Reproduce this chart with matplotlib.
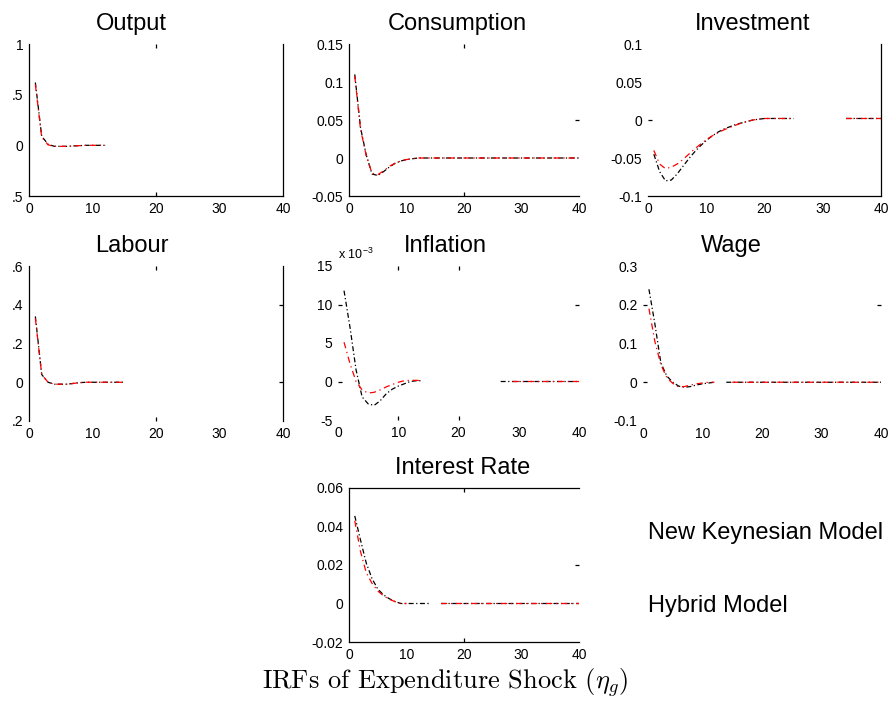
import numpy as np
import matplotlib
matplotlib.use('Agg')
import matplotlib.pyplot as plt

N = np.nan

# Горизонт отклика (кварталы)
periods = list(range(1, 41))

# New Keynesian Model (чёрная) и Hybrid Model (красная)
output_nk = [0.62, 0.09, 0.01, -0.01, -0.01, -0.01, -0.006, -0.003, 0.0, 0.0,
             0.0, 0.0, N, N, N, N, N, N, N, N,
             N, N, N, N, N, N, N, N, N, N,
             N, N, N, N, N, N, N, N, N, N]
output_hy = [0.60, 0.08, 0.005, -0.01, -0.01, -0.01, -0.006, -0.003, 0.0, 0.0,
             0.0, 0.0, N, N, N, N, N, N, N, N,
             N, N, N, N, N, N, N, N, N, N,
             N, N, N, N, N, N, N, N, N, N]

consumption_nk = [0.110, 0.040, 0.004, -0.021, -0.023, -0.018, -0.012, -0.007, -0.004, -0.002,
                  -0.001, 0.0, 0.0, 0.0, 0.0, 0.0, 0.0, 0.0, 0.0, 0.0,
                  0.0, 0.0, 0.0, 0.0, 0.0, 0.0, 0.0, 0.0, 0.0, 0.0,
                  0.0, 0.0, 0.0, 0.0, 0.0, 0.0, 0.0, 0.0, 0.0, 0.0]
consumption_hy = [0.108, 0.038, 0.003, -0.020, -0.022, -0.017, -0.011, -0.007, -0.004, -0.002,
                  -0.001, 0.0, 0.0, 0.0, 0.0, 0.0, 0.0, 0.0, 0.0, 0.0,
                  0.0, 0.0, 0.0, 0.0, 0.0, 0.0, 0.0, 0.0, 0.0, 0.0,
                  0.0, 0.0, 0.0, 0.0, 0.0, 0.0, 0.0, 0.0, 0.0, 0.0]

investment_nk = [-0.045, -0.068, -0.080, -0.079, -0.071, -0.061, -0.051, -0.042, -0.034, -0.027,
                 -0.021, -0.016, -0.012, -0.009, -0.006, -0.004, -0.002, 0.000, 0.001, 0.002,
                 0.002, 0.002, 0.002, 0.002, 0.002, N, N, N, N, N,
                 N, N, N, 0.002, 0.002, 0.002, 0.002, 0.002, 0.002, 0.002]
investment_hy = [-0.040, -0.058, -0.064, -0.062, -0.058, -0.052, -0.045, -0.038, -0.032, -0.026,
                 -0.021, -0.017, -0.013, -0.010, -0.007, -0.004, -0.002, 0.000, 0.001, 0.002,
                 0.002, 0.002, 0.002, 0.002, 0.002, N, N, N, N, N,
                 N, N, N, 0.002, 0.002, 0.002, 0.002, 0.002, 0.002, 0.002]

labour_nk = [0.34, 0.04, 0.0, -0.01, -0.01, -0.01, -0.006, -0.002, 0.0, 0.0,
             0.0, 0.0, 0.0, 0.0, 0.0, N, N, N, N, N,
             N, N, N, N, N, N, N, N, N, N,
             N, N, N, N, N, N, N, N, N, N]
labour_hy = [0.33, 0.04, 0.0, -0.01, -0.01, -0.01, -0.006, -0.002, 0.0, 0.0,
             0.0, 0.0, 0.0, 0.0, 0.0, N, N, N, N, N,
             N, N, N, N, N, N, N, N, N, N,
             N, N, N, N, N, N, N, N, N, N]

# Инфляция в единицах 10^-3
inflation_nk = [11.8, 7.0, 1.5, -2.0, -2.9, -3.1, -2.5, -1.6, -1.0, -0.6,
                -0.3, 0.0, 0.1, 0.1, N, N, N, N, N, N,
                N, N, N, N, N, N, 0.0, 0.0, 0.0, 0.0,
                0.0, 0.0, 0.0, 0.0, 0.0, 0.0, 0.0, 0.0, 0.0, 0.0]
inflation_hy = [5.1, 2.3, 0.0, -1.1, -1.5, -1.4, -1.1, -0.7, -0.4, -0.1,
                0.1, 0.15, 0.15, 0.1, N, N, N, N, N, N,
                N, N, N, N, N, N, N, N, 0.0, 0.0,
                0.0, 0.0, 0.0, 0.0, 0.0, 0.0, 0.0, 0.0, 0.0, 0.0]

wage_nk = [0.24, 0.15, 0.05, 0.016, 0.0, -0.010, -0.013, -0.011, -0.007, -0.004,
           -0.002, 0.0, N, 0.0, 0.0, 0.0, 0.0, 0.0, 0.0, 0.0,
           0.0, 0.0, 0.0, 0.0, 0.0, 0.0, 0.0, 0.0, 0.0, 0.0,
           0.0, 0.0, 0.0, 0.0, 0.0, 0.0, 0.0, 0.0, 0.0, 0.0]
wage_hy = [0.19, 0.105, 0.045, 0.012, -0.003, -0.012, -0.011, -0.007, -0.004, -0.002,
           0.0, 0.0, N, N, 0.0, 0.0, 0.0, 0.0, 0.0, 0.0,
           0.0, 0.0, 0.0, 0.0, 0.0, 0.0, 0.0, 0.0, 0.0, 0.0,
           0.0, 0.0, 0.0, 0.0, 0.0, 0.0, 0.0, 0.0, 0.0, 0.0]

rate_nk = [0.0455, 0.033, 0.021, 0.013, 0.0075, 0.0045, 0.0025, 0.001, 0.0, 0.0,
           0.0, 0.0, 0.0, 0.0, N, 0.0, 0.0, 0.0, 0.0, 0.0,
           0.0, 0.0, 0.0, 0.0, 0.0, 0.0, 0.0, 0.0, 0.0, 0.0,
           0.0, 0.0, 0.0, 0.0, 0.0, 0.0, 0.0, 0.0, 0.0, 0.0]
rate_hy = [0.043, 0.027, 0.016, 0.0105, 0.0065, 0.0040, 0.0022, 0.001, 0.0, 0.0,
           N, N, N, N, N, 0.0, 0.0, 0.0, 0.0, 0.0,
           0.0, 0.0, 0.0, 0.0, 0.0, 0.0, 0.0, 0.0, 0.0, 0.0,
           0.0, 0.0, 0.0, 0.0, 0.0, 0.0, 0.0, 0.0, 0.0, 0.0]

x_ticks = [0, 10, 20, 30, 40]

plt.rcParams['font.family'] = ['Liberation Sans', 'DejaVu Sans']
plt.rcParams['mathtext.fontset'] = 'cm'

W, H = 891, 702
fig = plt.figure(figsize=(W / 100, H / 100), dpi=100)


def px_axes(left, right, top, bottom):
    """Оси по пиксельным границам (от левого верхнего угла)"""
    return fig.add_axes([left / W, 1 - bottom / H, (right - left) / W, (bottom - top) / H])


def has(loc, values):
    return any(np.isclose(loc, v) for v in values)


# Описание панелей: заголовок, границы, данные, ось Y, видимые рамки и риски
panels = [
    dict(title='Output', box=(29, 283, 44, 196), nk=output_nk, hy=output_hy,
         ylim=(-0.5, 1), yticks=[-0.5, 0, 0.5, 1], ylabels=['.5', '0', '.5', '1'],
         title_x=0.405, spines=('left', 'bottom', 'right'),
         ticks=dict(bottom=[20], top=[20], left=[], right=[])),
    dict(title='Consumption', box=(349, 579, 44, 196), nk=consumption_nk, hy=consumption_hy,
         ylim=(-0.05, 0.15), yticks=[-0.05, 0, 0.05, 0.1, 0.15],
         ylabels=['-0.05', '0', '0.05', '0.1', '0.15'],
         title_x=0.472, spines=('left', 'bottom'),
         ticks=dict(bottom=[20], top=[20], left=[], right=[0.05])),
    dict(title='Investment', box=(648, 881, 44, 196), nk=investment_nk, hy=investment_hy,
         ylim=(-0.1, 0.1), yticks=[-0.1, -0.05, 0, 0.05, 0.1],
         ylabels=['-0.1', '-0.05', '0', '0.05', '0.1'],
         title_x=0.45, spines=('bottom', 'right'),
         ticks=dict(bottom=[], top=[], left=[0], right=[])),
    dict(title='Labour', box=(29, 283, 266, 421), nk=labour_nk, hy=labour_hy,
         ylim=(-0.2, 0.6), yticks=[-0.2, 0, 0.2, 0.4, 0.6],
         ylabels=['.2', '0', '.2', '.4', '.6'],
         title_x=0.405, spines=('left', 'right'),
         ticks=dict(bottom=[20], top=[20], left=[], right=[0, 0.4])),
    dict(title='Inflation', box=(338, 579, 266, 420), nk=inflation_nk, hy=inflation_hy,
         ylim=(-5, 15), yticks=[-5, 0, 5, 10, 15],
         ylabels=['-5', '0', '5', '10', '15'],
         title_x=0.444, spines=(),
         ticks=dict(bottom=[10, 20], top=[10, 20], left=[0, 10], right=[10])),
    dict(title='Wage', box=(643, 881, 266, 421), nk=wage_nk, hy=wage_hy,
         ylim=(-0.1, 0.3), yticks=[-0.1, 0, 0.1, 0.2, 0.3],
         ylabels=['-0.1', '0', '0.1', '0.2', '0.3'],
         title_x=0.372, spines=(),
         ticks=dict(bottom=[], top=[], left=[0, 0.2], right=[0.2])),
    dict(title='Interest Rate', box=(349, 579, 488, 642), nk=rate_nk, hy=rate_hy,
         ylim=(-0.02, 0.06), yticks=[-0.02, 0, 0.02, 0.04, 0.06],
         ylabels=['-0.02', '0', '0.02', '0.04', '0.06'],
         title_x=0.496, spines=('left', 'top', 'bottom'),
         ticks=dict(bottom=[20], top=[20], left=[], right=[0.02])),
]

for p in panels:
    ax = px_axes(*p['box'])
    ax.plot(periods, p['nk'], color='black', lw=0.9, ls=(0, (4, 2, 1, 2)))
    ax.plot(periods, p['hy'], color='red', lw=0.9, ls=(0, (5, 3, 1, 3)))

    ax.set_xlim(0, 40)
    ax.set_ylim(*p['ylim'])
    ax.set_xticks(x_ticks)
    ax.set_xticklabels([str(v) for v in x_ticks])
    ax.set_yticks(p['yticks'])
    ax.set_yticklabels(p['ylabels'])

    for side, spine in ax.spines.items():
        spine.set_visible(side in p['spines'])
        spine.set_linewidth(0.9)

    # риски внутрь, как в MATLAB; видны только отдельные
    ax.tick_params(direction='in', length=3, width=0.9, top=True, right=True,
                   labelsize=10, pad=4)
    t = p['ticks']
    for loc, tk in zip(ax.get_xticks(), ax.xaxis.get_major_ticks()):
        tk.tick1line.set_visible(has(loc, t['bottom']))
        tk.tick2line.set_visible(has(loc, t['top']))
    for loc, tk in zip(ax.get_yticks(), ax.yaxis.get_major_ticks()):
        tk.tick1line.set_visible(has(loc, t['left']))
        tk.tick2line.set_visible(has(loc, t['right']))

    ax.set_title(p['title'], fontsize=17, x=p['title_x'], pad=10)

    if p['title'] == 'Inflation':
        ax.text(0.0, 1.075, 'x 10$^{\\mathregular{-3}}$', transform=ax.transAxes,
                ha='left', va='center', fontsize=9)

# Подписи моделей
fig.text(648 / W, 1 - 533 / H, 'New Keynesian Model', fontsize=17, va='center', ha='left')
fig.text(648 / W, 1 - 606 / H, 'Hybrid Model', fontsize=17, va='center', ha='left')

# Подпись рисунка
fig.text(445 / W, 1 - 683 / H, 'IRFs of Expenditure Shock ($\\eta_g$)',
         family='cmr10', fontsize=19, ha='center', va='center')

fig.savefig('out.png', dpi=100)
